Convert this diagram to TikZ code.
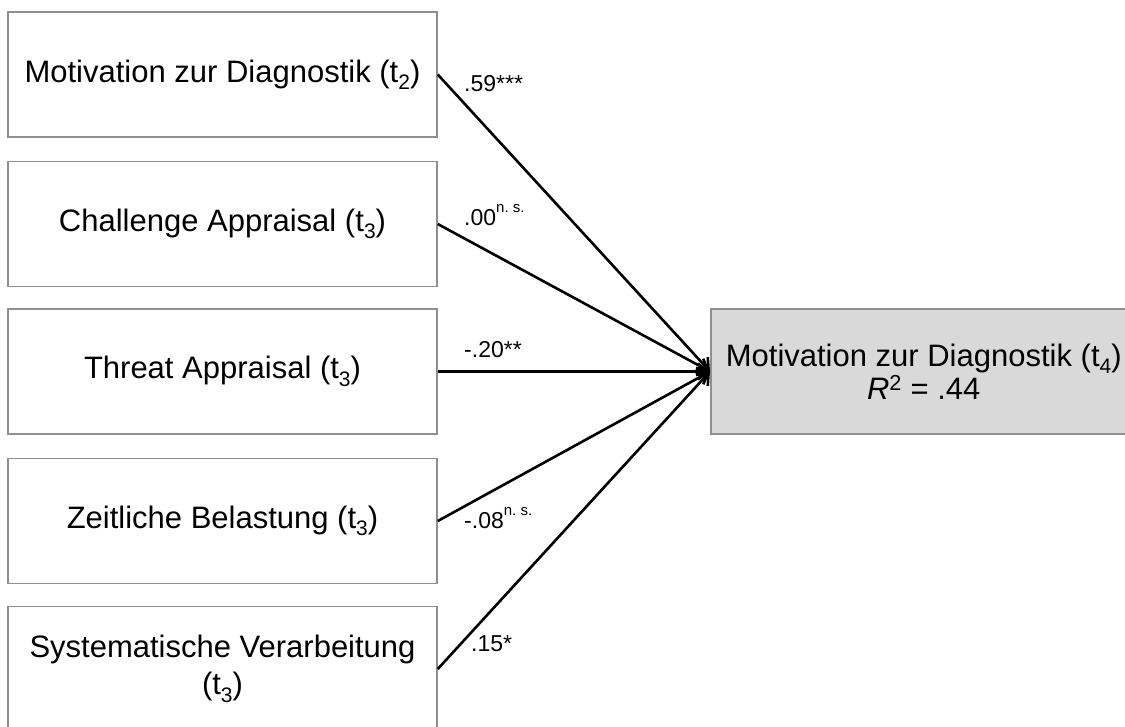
\documentclass[tikz,border=0pt]{standalone}
\usepackage{fontspec}
\setmainfont{Liberation Sans}
\usetikzlibrary{arrows.meta}
\definecolor{boxgray}{HTML}{8F8F8F}
\definecolor{fillgray}{HTML}{D9D9D9}
% small lowered index for the measurement time points
\newcommand{\tsub}[1]{\raisebox{-0.24em}{\fontsize{21}{21}\selectfont #1}}
% raised "not significant" mark
\newcommand{\nsmark}{\raisebox{0.55em}{\fontsize{15}{15}\selectfont n.\ s.}}
\begin{document}
\begin{tikzpicture}[x=1pt,y=-1pt,
  box/.style={draw=boxgray, line width=1.5pt, minimum width=429pt,
    minimum height=125pt, inner sep=0pt, align=center,
    font=\fontsize{31}{37}\selectfont},
  outbox/.style={box, fill=fillgray, minimum width=426pt,
    font=\fontsize{31}{33}\selectfont},
  path/.style={line width=2.6pt, -{Straight Barb[length=10pt,width=16pt]}},
  coef/.style={anchor=west, inner sep=0pt, font=\fontsize{23}{26}\selectfont}]
\useasboundingbox (0,0) rectangle (1125,726);
\clip (0,0) rectangle (1125,726);

% predictors
\node[box] (b1) at (222.5,74.5) {Motivation zur Diagnostik (t\tsub{2})};
\node[box] (b2) at (222.5,224) {Challenge Appraisal (t\tsub{3})};
\node[box] (b3) at (222.5,371.5) {Threat Appraisal (t\tsub{3})};
\node[box] (b4) at (222.5,521) {Zeitliche Belastung (t\tsub{3})};
\node[box] (b5) at (222.5,669) {Systematische Verarbeitung\\(t\tsub{3})};

% criterion
\node[outbox, anchor=west] (out) at (710,371.5)
  {Motivation zur Diagnostik (t\tsub{4})\\\textit{R}\textsuperscript{2} = .44};

% paths
\foreach \b in {b1,b2,b3,b4,b5}
  \draw[path] (\b.east) -- (out.west);

% path coefficients
\node[coef] (c1) at (464,84) {.59***};
\node[coef] (c2) at (464,215) {.00\nsmark};
\node[coef] (c3) at (464,350) {-.20**};
\node[coef] (c4) at (464,518) {-.08\nsmark};
\node[coef] (c5) at (471,644) {.15*};
\end{tikzpicture}
\end{document}
